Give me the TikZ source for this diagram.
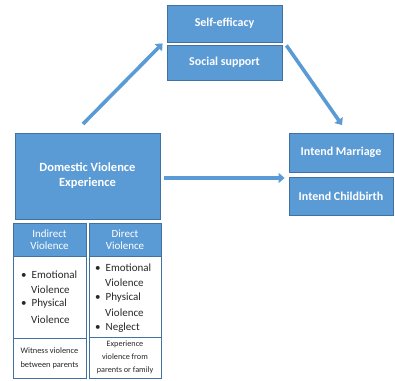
\documentclass[tikz,border=0pt]{standalone}
\usepackage{fontspec}
\setmainfont{Carlito}
\usetikzlibrary{arrows.meta,calc}
\definecolor{boxblue}{RGB}{91,155,213}
\definecolor{edgeblue}{RGB}{65,113,160}
\definecolor{txtgray}{RGB}{40,40,40}
\begin{document}
\begin{tikzpicture}[x=1pt,y=-1pt,
  bluebox/.style={draw=edgeblue,line width=0.8pt,fill=boxblue,text=white,
    font=\bfseries\fontsize{12}{13}\selectfont,align=center,inner sep=0pt},
  whitebox/.style={draw=edgeblue,line width=0.8pt,fill=white,inner sep=0pt},
  bullettext/.style={anchor=west,inner sep=0pt,text=txtgray,
    font=\fontsize{11}{12}\selectfont},
  notetext/.style={inner sep=0pt,text=txtgray,align=center,
    font=\fontsize{8.4}{13.5}\selectfont},
  arr/.style={draw=boxblue,line width=3.6pt,
    -{Triangle[width=10pt,length=6pt]}}]
\useasboundingbox (0,0) rectangle (395,380);

% mediators
\node[bluebox,minimum width=115,minimum height=37] (se) at (224.5,23.5) {Self-efficacy};
\node[bluebox,minimum width=115,minimum height=35] (ss) at (224.5,62.5) {Social support};

% outcomes
\node[bluebox,minimum width=104,minimum height=39] (im) at (341,152.5) {Intend Marriage};
\node[bluebox,minimum width=104,minimum height=38] (ic) at (341,196) {Intend Childbirth};

% exposure
\node[bluebox,minimum width=145,minimum height=86,
  font=\bfseries\fontsize{12.5}{15}\selectfont] (dv) at (87.5,176)
  {Domestic Violence\\Experience};

% indirect violence column
\node[bluebox,minimum width=73,minimum height=33,
  font=\fontsize{11}{12.5}\selectfont] (ih) at (49.5,239.5) {Indirect\\Violence};
\node[whitebox,minimum width=73,minimum height=82] (ib) at (49.5,297) {};
\node[whitebox,minimum width=73,minimum height=40] (if) at (49.5,358) {};

% direct violence column
\node[bluebox,minimum width=72,minimum height=33,
  font=\fontsize{11}{12.5}\selectfont] (dh) at (125,239.5) {Direct\\Violence};
\node[whitebox,minimum width=72,minimum height=81] (db) at (125,296.5) {};
\node[whitebox,minimum width=72,minimum height=41] (df) at (125,357.5) {};

% bullet lists
\node[bullettext] (b1) at (21,275) {\textbullet\hspace{5pt}Emotional};
\node[bullettext] (b2) at (31,290) {Violence};
\node[bullettext] (b3) at (21,304) {\textbullet\hspace{5pt}Physical};
\node[bullettext] (b4) at (31,320) {Violence};

\node[bullettext] (c1) at (95,268) {\textbullet\hspace{5pt}Emotional};
\node[bullettext] (c2) at (105,283) {Violence};
\node[bullettext] (c3) at (95,298) {\textbullet\hspace{5pt}Physical};
\node[bullettext] (c4) at (105,313) {Violence};
\node[bullettext] (c5) at (95,328) {\textbullet\hspace{5pt}Neglect};

% notes
\node[notetext,font=\fontsize{8.4}{14}\selectfont] (n1) at (if.center) {Witness violence\\between parents};
\node[notetext,font=\fontsize{8.2}{13}\selectfont] (n2) at (df.center) {Experience\\violence from\\parents or family};

% paths
\coordinate (t1) at (83,124);
\coordinate (h1) at ($(se.south west)+(-4,1)$);
\coordinate (t2) at ($(se.south east)+(4,3)$);
\coordinate (h2) at (342,125);
\draw[arr] (t1) -- (h1);
\draw[arr] (t2) -- (h2);
\draw[arr] ($(dv.east)+(4,2)$) -- ($(dv.east -| im.west)+(-4,2)$);
\end{tikzpicture}
\end{document}
